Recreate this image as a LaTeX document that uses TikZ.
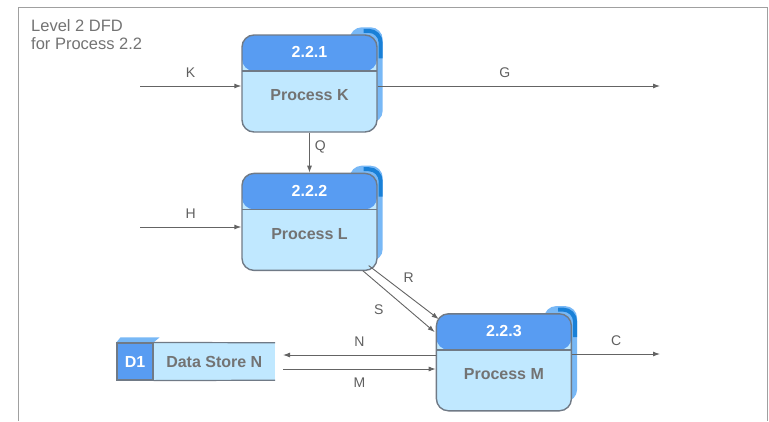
\documentclass[tikz,border=0pt]{standalone}
\usepackage{fontspec}
\setmainfont{Liberation Sans}
\usetikzlibrary{arrows.meta,positioning,backgrounds,calc}

\definecolor{hdrblue}{RGB}{88,156,242}
\definecolor{bodyblue}{RGB}{192,232,255}
\definecolor{procline}{RGB}{112,122,134}
\definecolor{shadlight}{RGB}{120,184,246}
\definecolor{shaddark}{RGB}{25,128,215}
\definecolor{txtgray}{RGB}{95,95,95}
\definecolor{linegray}{RGB}{100,100,100}
\definecolor{framegray}{RGB}{160,160,160}

\begin{document}
\begin{tikzpicture}[x=1pt,y=-1pt]
\tikzstyle{proc}=[rectangle, rounded corners=12pt, draw=procline, line width=1.4pt, fill=bodyblue,
  minimum width=135pt, minimum height=97pt, inner sep=0pt,
  path picture={\fill[hdrblue] (path picture bounding box.north west) rectangle ([yshift=-36pt]path picture bounding box.north east);
    \draw[procline, line width=1.4pt] ([yshift=-36pt]path picture bounding box.north west) -- ([yshift=-36pt]path picture bounding box.north east);}]
\tikzstyle{hdrtxt}=[font=\fontsize{16}{18}\selectfont\bfseries, text=white, inner sep=0pt]
\tikzstyle{proctxt}=[font=\fontsize{16}{18}\selectfont\bfseries, text=black!55, inner sep=0pt]
\tikzstyle{storeid}=[rectangle, draw=procline, line width=1.2pt, fill=hdrblue, minimum width=36pt, minimum height=37pt,
  inner sep=0pt, font=\fontsize{16}{18}\selectfont\bfseries, text=white]
\tikzstyle{store}=[rectangle, fill=bodyblue, minimum width=121pt, minimum height=37pt, inner sep=0pt,
  font=\fontsize{16}{18}\selectfont\bfseries, text=black!55]
\tikzstyle{connect}=[-{Latex[length=7pt,width=5pt]}, draw=linegray, line width=0.9pt]
\tikzstyle{lbl}=[font=\fontsize{14}{16}\selectfont, text=txtgray, inner sep=1pt]
\tikzstyle{dfdtitle}=[font=\fontsize{16.5}{18.5}\selectfont, text=black!55, align=left, inner sep=0pt]

  \useasboundingbox (0,0) rectangle (769,421);
  \draw[framegray, line width=1pt] (18,421) -- (18,7) -- (767,7) -- (767,421);

  \node[dfdtitle, anchor=north west] (title) at (31,19) {Level 2 DFD\\for Process 2.2};

  % processes
  \node[proc] (pk) at (309.5,83.5) {};
  \node[proc] (pl) [below=40pt of pk] {};
  \node[proc] (pm) [below right=42pt and 58pt of pl] {};

  \node[hdrtxt] (pkid) at ([yshift=-18pt]pk.north) {2.2.1};
  \node[hdrtxt] (plid) at ([yshift=-18pt]pl.north) {2.2.2};
  \node[hdrtxt] (pmid) at ([yshift=-18pt]pm.north) {2.2.3};
  \node[proctxt] (pkname) at ([yshift=-12pt]pk.center) {Process K};
  \node[proctxt] (plname) at ([yshift=-12pt]pl.center) {Process L};
  \node[proctxt] (pmname) at ([yshift=-12pt]pm.center) {Process M};

  % data store
  \node[storeid] (d1) at (135,361.5) {D1};
  \node[store] (ds) [right=0pt of d1] {Data Store N};
  \draw[procline, line width=1.2pt] (d1.north east) -- (ds.north east);
  \draw[procline, line width=1.2pt] (d1.south east) -- (ds.south east);

  \begin{scope}[on background layer]
    \foreach \p in {pk,pl,pm} {
      \fill[shadlight, rounded corners=12pt] ([shift={(-28,-7)}]\p.north east) rectangle ([shift={(5,-10)}]\p.south east);
      \draw[shaddark, line width=4pt, rounded corners=12pt] ([shift={(-14,-3.5)}]\p.north east) -- ([shift={(3,-3.5)}]\p.north east) -- ([shift={(3,24)}]\p.north east);
    }
    \fill[shadlight] (d1.north west) -- ([shift={(4,-5)}]d1.north west) -- ([shift={(6,-5)}]d1.north east) -- (d1.north east) -- cycle;
  \end{scope}

  % flows
  \coordinate (kin) at (140,86);
  \coordinate (gout) at (660,86);
  \coordinate (hin) at (140,227);
  \coordinate (nrow) at (0,355);
  \coordinate (mrow) at (0,369);
  \coordinate (cout) at (660,354);
  \coordinate (dsgap) at ([xshift=8pt]ds.east);

  \draw[connect] (kin) -- (kin -| pk.west) node[lbl, midway, above=7pt] {K};
  \draw[connect] (kin -| pk.east) -- (gout) node[lbl, pos=0.45, above=7pt] {G};
  \draw[connect] (pk.south) -- (pl.north) node[lbl, pos=0.35, right=4pt] {Q};
  \draw[connect] (hin) -- (hin -| pl.west) node[lbl, midway, above=7pt] {H};
  \draw[connect] ([shift={(-9,-5.5)}]pl.south east) -- ([shift={(3,6)}]pm.north west)
    node[lbl, midway, xshift=5pt, yshift=15pt] {R};
  \draw[connect] ([shift={(-15,-0.5)}]pl.south east) -- ([shift={(-1,19)}]pm.north west)
    node[lbl, midway, xshift=-20pt, yshift=-8pt] {S};
  \draw[connect] (pm.west |- nrow) -- (dsgap |- nrow) node[lbl, midway, above=7pt] {N};
  \draw[connect] (dsgap |- mrow) -- (pm.west |- mrow) node[lbl, midway, below=7pt] {M};
  \draw[connect] (cout -| pm.east) -- (cout) node[lbl, midway, above=7pt] {C};

\end{tikzpicture}
\end{document}
